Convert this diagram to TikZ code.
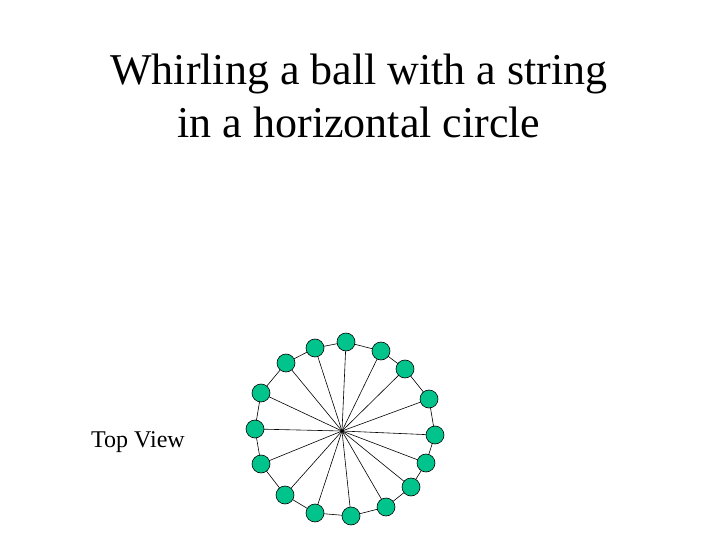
\documentclass[tikz,border=0pt]{standalone}
\usepackage{fontspec}
\setmainfont{Liberation Serif}
\begin{document}
\begin{tikzpicture}[x=1pt,y=-1pt,
  ball/.style={circle,draw=black,line width=0.6pt,fill=ballgreen,minimum size=18pt,inner sep=0pt},
  string/.style={draw=black,line width=0.6pt},
  title/.style={font=\fontsize{44}{52}\selectfont,anchor=base,inner sep=0pt}]
\definecolor{ballgreen}{RGB}{0,196,140}
\useasboundingbox[fill=white] (0,0) rectangle (720,540);
\node[title] (t1) at (359,85) {Whirling a ball with a string};
\node[title] (t2) at (359,138) {in a horizontal circle};
\node[font=\fontsize{24}{28}\selectfont,anchor=base west,inner sep=0pt] (tv) at (91,447) {Top View};
\coordinate (c) at (342,431);
\foreach \i/\x/\y in {1/346/342,2/381/351,3/405/369,4/429/399,5/435/435,6/426/463,7/411/487,8/386/507,9/351/516,10/315/513,11/285/495,12/261/464,13/255/429,14/261/393,15/286/363,16/315/348}
  \coordinate (p\i) at (\x,\y);
\draw[string] (p1)--(p2)--(p3)--(p4)--(p5)--(p6)--(p7)--(p8)--(p9)--(p10)--(p11)--(p12)--(p13)--(p14)--(p15)--(p16)--cycle;
\foreach \i in {1,...,16} \draw[string] (c)--(p\i);
\fill (c) circle (1.5pt);
\foreach \i in {1,...,16} \node[ball] (b\i) at (p\i) {};
\end{tikzpicture}
\end{document}
